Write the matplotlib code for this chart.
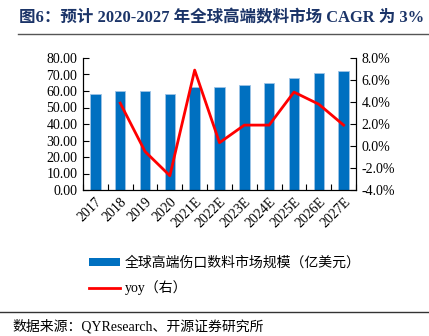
import matplotlib.pyplot as plt
import numpy as np
from matplotlib.lines import Line2D
from matplotlib.patches import Patch

plt.rcParams['font.family'] = ['Liberation Serif', 'Noto Sans CJK SC', 'DejaVu Sans']

years = ["2017", "2018", "2019", "2020", "2021E", "2022E", "2023E",
         "2024E", "2025E", "2026E", "2027E"]
market = [58.0, 60.2, 59.8, 58.4, 62.2, 62.6, 63.6, 64.8, 68.1, 70.7, 72.1]
yoy = [np.nan, 3.9, -0.5, -2.7, 6.9, 0.3, 1.9, 1.9, 4.9, 3.8, 1.9]

title = "图6：预计 2020-2027 年全球高端数料市场 CAGR 为 3%"
bar_label = "全球高端伤口数料市场规模（亿美元）"
line_label = "yoy（右）"
source = "数据来源：QYResearch、开源证券研究所"

W, H = 429, 336
fig = plt.figure(figsize=(W / 100, H / 100), dpi=100)

ax = fig.add_axes([83 / W, 1 - 190 / H, 273 / W, 132 / H])
x = np.arange(len(years))
ax.bar(x, market, width=0.42, color="#0070C0", edgecolor="#9DC3E6", linewidth=0.6)
ax.set_xlim(-0.5, len(years) - 0.5)
ax.set_ylim(0, 80)
ax.set_yticks(np.arange(0, 81, 10))
ax.set_yticklabels([f"{v:.2f}" for v in np.arange(0, 81, 10)], fontsize=10)
ax.set_xticks(x)
ax.set_xticklabels(years, rotation=45, ha="right", va="top",
                   rotation_mode="anchor", fontsize=10)
ax.set_xticks(np.arange(-0.5, len(years)), minor=True)
ax.tick_params(axis="x", which="major", length=0, pad=4)
ax.tick_params(axis="x", which="minor", direction="in", length=4, width=0.8)
ax.tick_params(axis="y", direction="in", length=4, width=0.8, pad=4)
ax.spines["top"].set_visible(False)
for s in ["left", "bottom", "right"]:
    ax.spines[s].set_linewidth(0.8)

ax2 = ax.twinx()
ax2.plot(x, yoy, color="#FF0000", linewidth=2)
ax2.set_ylim(-4, 8)
ax2.set_yticks(np.arange(-4, 8.1, 2))
ax2.set_yticklabels([f"{v:.1f}%" for v in np.arange(-4, 8.1, 2)], fontsize=10)
ax2.tick_params(axis="y", direction="in", length=4, width=0.8, pad=4)
ax2.spines["top"].set_visible(False)
for s in ["left", "bottom", "right"]:
    ax2.spines[s].set_linewidth(0.8)

fig.text(19 / W, 1 - 19 / H, title, fontsize=11.9, fontweight="bold",
         color="#1B3468", va="center", ha="left")
fig.add_artist(Line2D([18 / W, 1], [1 - 34 / H] * 2, color="#555555", linewidth=1))

handles = [Patch(facecolor="#0070C0", edgecolor="none"),
           Line2D([], [], color="#FF0000", linewidth=2)]
fig.legend(handles, [bar_label, line_label], loc="upper left",
           bbox_to_anchor=(76 / W, 1 - 244 / H), frameon=False, fontsize=10,
           handlelength=2.3, handleheight=0.5, labelspacing=0.75, handletextpad=0.3)

fig.add_artist(Line2D([0, 1], [1 - 312 / H] * 2, color="#333333", linewidth=1))
fig.text(12 / W, 1 - 326 / H, source, fontsize=10, va="center", ha="left")

fig.savefig("out.png", dpi=100)
